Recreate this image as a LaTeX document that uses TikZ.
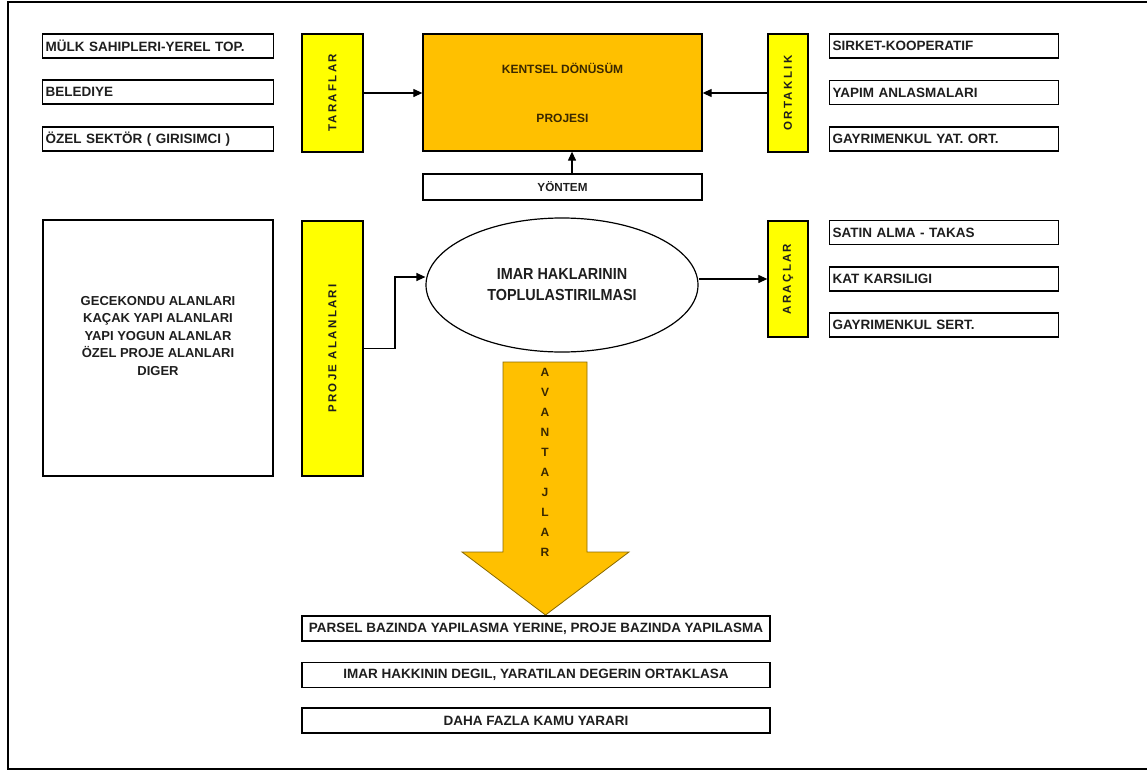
\documentclass[tikz,border=0pt]{standalone}
\usepackage{fontspec}
\setmainfont{Liberation Sans}
\newfontfamily\vlab{Liberation Sans}[LetterSpace=20]
\newfontfamily\narrowf{Liberation Sans}[FakeStretch=0.9]
\usetikzlibrary{shapes.geometric,arrows.meta}
\definecolor{yel}{HTML}{FFFF00}
\definecolor{gold}{HTML}{FFC000}
\definecolor{goldline}{HTML}{8A6A00}
\definecolor{ink}{HTML}{1E1E1E}
\definecolor{brownink}{HTML}{3A2800}
\begin{document}
\begin{tikzpicture}[x=1pt,y=-1pt,
  box/.style={draw, line width=1.3pt, text=ink},
  lst/.style={box, anchor=west, minimum height=24pt, text width=#1, align=left,
    inner xsep=3pt, inner ysep=0pt, font=\fontsize{13.5}{16}\selectfont\bfseries},
  ybox/.style={box, fill=yel, inner sep=0pt, font=\vlab\bfseries\fontsize{11.5}{13}\selectfont},
  btm/.style={box, minimum width=468pt, minimum height=25pt, inner xsep=2pt, inner ysep=0pt,
    font=\fontsize{13.5}{16}\selectfont\bfseries},
  arr/.style={line width=1.2pt, -{Triangle[length=9pt,width=8pt]}}
]
\useasboundingbox (0,0) rectangle (1147,771);
\draw[line width=1.6pt] (1147,2) -- (8,2) -- (8,769) -- (1147,769);

% left list
\node[lst=225pt] (l1) at (42,46) {MÜLK SAHIPLERI-YEREL TOP.};
\node[lst=225pt] (l2) at (42,92) {BELEDIYE};
\node[lst=225pt] (l3) at (42,139) {ÖZEL SEKTÖR ( GIRISIMCI )};

% yellow labels
\node[ybox, minimum width=61pt, minimum height=118pt] (taraf) at (332.5,93) {\rotatebox{90}{TARAFLAR}};
\node[ybox, minimum width=40pt, minimum height=118pt] (ortak) at (788,93) {\rotatebox{90}{ORTAKLIK}};
\node[ybox, minimum width=61pt, minimum height=255pt] (proje) at (332.5,348.5) {\rotatebox{90}{PROJE ALANLARI}};
\node[ybox, minimum width=40pt, minimum height=116pt] (arac) at (788,279) {\rotatebox{90}{ARAÇLAR}};

% central project
\node[box, fill=gold, minimum width=279pt, minimum height=117pt, align=center,
  font=\fontsize{12}{14}\selectfont\bfseries, text=brownink] (kent) at (562.5,92.5)
  {KENTSEL DÖNÜSÜM\\[35pt]PROJESI};
\node[box, minimum width=279pt, minimum height=26pt, inner sep=0pt,
  font=\fontsize{11.7}{14}\selectfont\bfseries] (yon) at (562.5,187) {YÖNTEM};

% right lists
\node[lst=223pt] (r1) at (829,46) {SIRKET-KOOPERATIF};
\node[lst=223pt] (r2) at (829,92.5) {YAPIM ANLASMALARI};
\node[lst=223pt] (r3) at (829,139) {GAYRIMENKUL YAT. ORT.};
\node[lst=223pt] (r4) at (829,232.5) {SATIN ALMA - TAKAS};
\node[lst=223pt] (r5) at (829,279) {KAT KARSILIGI};
\node[lst=223pt] (r6) at (829,325) {GAYRIMENKUL SERT.};

% big left box
\node[box, minimum width=230pt, minimum height=256pt] (alan) at (158,348) {};
\node[align=center, inner sep=0pt, text=ink, font=\fontsize{13}{17.5}\selectfont\bfseries] (alantxt) at (158,336)
  {GECEKONDU ALANLARI\\KAÇAK YAPI ALANLARI\\YAPI YOGUN ALANLAR\\ÖZEL PROJE ALANLARI\\DIGER};

% ellipse
\node[draw, ellipse, line width=1.2pt, minimum width=272pt, minimum height=134pt, inner sep=0pt,
  align=center, text=ink, font=\narrowf\bfseries\fontsize{16}{21}\selectfont] (ell) at (562,285)
  {IMAR HAKLARININ\\TOPLULASTIRILMASI};

% connectors
\draw[arr] (taraf.east) -- (taraf.east -| kent.west);
\draw[arr] (ortak.west) -- (ortak.west -| kent.east);
\draw[arr] ([xshift=9.5pt]yon.north) -- ([xshift=9.5pt]kent.south);
\coordinate (k1) at (395,277);
\draw[arr] (proje.east) -| (k1) -- (k1 -| ell.west);
\draw[arr] (arac.west -| ell.east) -- (arac.west);

% big arrow
\draw[fill=gold, draw=goldline, line width=0.8pt]
  (503,362) -- (587,362) -- (587,552) -- (629,552) -- (545.5,615) -- (462,552) -- (503,552) -- cycle;
\node[font=\fontsize{12}{20}\selectfont\bfseries, text=brownink, align=center, inner sep=0pt] (avan) at (545,462)
  {A\\V\\A\\N\\T\\A\\J\\L\\A\\R};

% bottom boxes
\node[btm] (b1) at (536,628.5) {PARSEL BAZINDA YAPILASMA YERINE, PROJE BAZINDA YAPILASMA};
\node[btm] (b2) at (536,675) {IMAR HAKKININ DEGIL, YARATILAN DEGERIN ORTAKLASA};
\node[btm] (b3) at (536,720.5) {DAHA FAZLA KAMU YARARI};
\end{tikzpicture}
\end{document}
